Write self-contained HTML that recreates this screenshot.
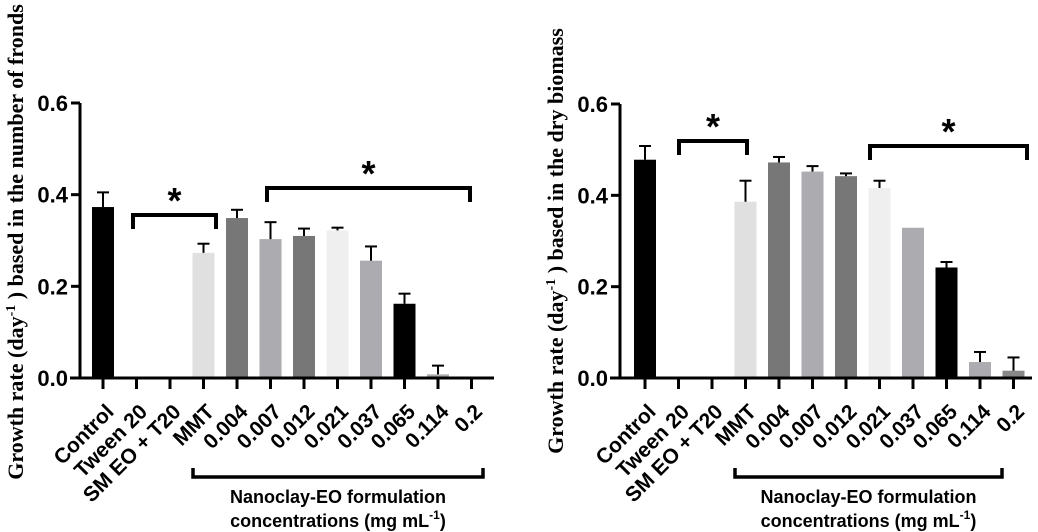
<!DOCTYPE html>
<html><head><meta charset="utf-8"><style>
body{margin:0;background:#fff;width:1038px;height:532px;overflow:hidden}
svg{display:block}
.tk{font:bold 22px "Liberation Sans",sans-serif}
.cat{font:bold 21px "Liberation Sans",sans-serif}
.yt{font:bold 22px "Liberation Serif",serif}
.nb{font:bold 18px "Liberation Sans",sans-serif}
</style></head><body>
<svg id="c" width="1038" height="532"></svg>
<script>
const categories=["Control","Tween 20","SM EO + T20","MMT","0.004","0.007","0.012","0.021","0.037","0.065","0.114","0.2"];
const froundsValues=[0.373,0,0,0.273,0.349,0.303,0.310,0.322,0.256,0.162,0.008,0];
const froundsErrors=[0.032,0,0,0.020,0.018,0.037,0.016,0.006,0.031,0.022,0.019,0];
const biomassValues=[0.478,0,0,0.386,0.472,0.452,0.442,0.416,0.329,0.242,0.035,0.016];
const biomassErrors=[0.030,0,0,0.046,0.012,0.012,0.006,0.016,0,0.012,0.022,0.029];
const leftColors=["#000","#fff","#fff","#e0e0e0","#777","#ababb0","#777","#efefef","#ababb0","#000","#ababb0","#888"];
const rightColors=["#000","#fff","#fff","#e0e0e0","#777","#ababb0","#777","#efefef","#ababb0","#000","#ababb0","#888"];
const yTicks=[0,0.2,0.4,0.6];
const NS="http://www.w3.org/2000/svg";
const svg=document.getElementById('c');
function mk(t,a,p){const e=document.createElementNS(NS,t);for(const k in a)e.setAttribute(k,a[k]);(p||svg).appendChild(e);return e;}
function panel(o){
  const g=mk('g',{});
  
  
  const y=v=>o.y0-(o.y0-o.y6)*v/0.6;
  const x=i=>o.x0+i*33.5;
  const ax=mk('line',{x1:o.ax,y1:o.y6,x2:o.ax,y2:o.y0+1,stroke:'#000','stroke-width':3},g);
  
  const xa=mk('line',{x1:o.ax-10,y1:o.y0,x2:o.xend,y2:o.y0,stroke:'#000','stroke-width':3},g);
  
  yTicks.forEach(t=>{
    mk('line',{x1:o.ax-9,x2:o.ax,y1:y(t),y2:y(t),stroke:'#000','stroke-width':3},g);
    const tx=mk('text',{x:o.ax-12,y:y(t)+8,'text-anchor':'end',class:'tk'},g);tx.textContent=t.toFixed(1);
    
  });
  categories.forEach((c,i)=>{
    const v=o.vals[i],e=o.errs[i];
    if(v>0){
      const r=mk('rect',{x:x(i)-11,y:y(v),width:22,height:o.y0-y(v)-1.5,fill:o.cols[i]},g);
      
      
      if(e>0){
        mk('line',{x1:x(i),x2:x(i),y1:y(v),y2:y(v+e),stroke:'#000','stroke-width':2},g);
        mk('line',{x1:x(i)-6,x2:x(i)+6,y1:y(v+e),y2:y(v+e),stroke:'#000','stroke-width':2},g);
      }
    }
    mk('line',{x1:x(i),x2:x(i),y1:o.y0,y2:o.y0+11,stroke:'#000','stroke-width':3},g);
    const t=mk('text',{x:0,y:0,'text-anchor':'end',class:'cat',transform:`translate(${x(i)+12},${o.y0+35}) rotate(-45)`},g);
    t.textContent=c;
    
  });
  o.brackets.forEach(b=>{
    const p=mk('path',{d:`M${b[0]},${b[2]+14}V${b[2]}H${b[1]}V${b[2]+14}`,fill:'none',stroke:'#000','stroke-width':4},g);
    
    const s=mk('text',{x:(b[0]+b[1])/2,y:b[2]-2,'text-anchor':'middle',style:'font:bold 36px "Liberation Sans",sans-serif'},g);
    s.textContent='*';
  });
  const nb=mk('path',{d:`M${o.nb[0]},468V477H${o.nb[1]}V468`,fill:'none',stroke:'#000','stroke-width':3.5},g);
  
  const cx=(o.nb[0]+o.nb[1])/2;
  const t1=mk('text',{x:cx,y:503,'text-anchor':'middle',class:'nb'},g);t1.textContent='Nanoclay-EO formulation';
  
  const t2=mk('text',{x:cx,y:527,'text-anchor':'middle',class:'nb'},g);
  t2.innerHTML='concentrations (mg mL<tspan dy="-8" font-size="12">-1</tspan><tspan dy="8">)</tspan>';
  
  const yt=mk('text',{x:0,y:0,'text-anchor':'middle',class:'yt',transform:`translate(${o.ytx},${o.yty}) rotate(-90)`},g);
  yt.innerHTML=o.ytitle;
  
}
panel({name:'fronds-chart',ax:80,x0:103,xend:494,y0:378,y6:103,vals:froundsValues,errs:froundsErrors,cols:leftColors,
  brackets:[[133,216,215],[267,470,188]],nb:[193,483],ytx:23,yty:242,
  ytitle:'Growth rate (day<tspan dy="-8" font-size="14">-1</tspan><tspan dy="8"> ) based in the number of fronds</tspan>'});
panel({name:'biomass-chart',ax:620,x0:645,xend:1032,y0:378,y6:104,vals:biomassValues,errs:biomassErrors,cols:rightColors,
  brackets:[[679,747,141],[870,1027,146]],nb:[735,1002],ytx:563,yty:241,
  ytitle:'Growth rate (day<tspan dy="-8" font-size="14">-1</tspan><tspan dy="8"> ) based in the dry biomass</tspan>'});
</script>
</body></html>
